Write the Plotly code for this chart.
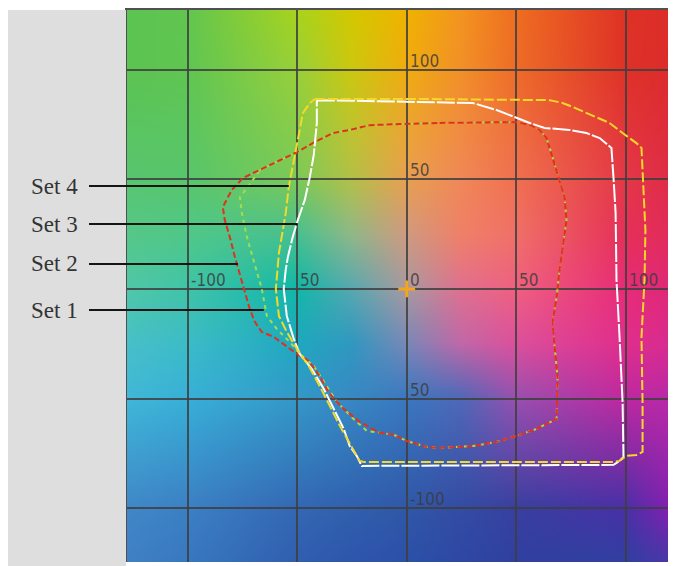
import base64
import struct
import zlib

import numpy as np
import plotly.graph_objects as go

# ---------------- data (a*, b*) ----------------
set1_a = [-67.0, -57.9, -50.1, -42.8, -33.7, -26.0, -16.9, -3.2, 15.0, 50.1, 56.1, 60.6, 63.8, 66.5,
          69.7, 72.0, 72.9, 71.1, 69.7, 68.4, 66.5, 67.5, 68.8, 68.4, 59.3, 50.1, 41.0, 30.5, 15.0,
          9.1, 0.0, -5.9, -9.1, -18.2, -24.2, -31.9, -36.5, -42.4, -48.8, -53.3, -59.3, -63.8, -66.1,
          -70.2, -72.9, -75.2, -76.1, -72.5]
set1_b = [54.2, 58.8, 62.4, 66.5, 71.1, 72.5, 74.7, 75.2, 75.7, 76.1, 74.8, 72.5, 68.8, 60.2,
          49.7, 41.9, 31.4, 19.1, 8.7, -3.6, -15.5, -26.4, -40.1, -59.2, -63.8, -67.0, -69.7, -71.6, -72.5,
          -72.0, -69.3, -66.5, -66.1, -64.7, -59.3, -51.5, -44.2, -35.1, -29.6, -24.2, -18.2, -12.3, 0.0,
          14.6, 23.7, 34.6, 41.9, 46.5]

set2_a = [15.0, 50.1, 56.1, 60.6, 63.8, 66.5, 69.7, 72.0, 72.9, 71.1, 69.7, 68.4, 66.5, 67.5, 68.8,
          68.4, 59.3, 50.1, 41.0, 30.5, 15.0, 9.1, 0.0, -5.9, -12.3, -21.4, -28.7, -33.3, -36.5, -39.7,
          -44.7, -50.1, -56.1, -60.6, -66.1, -69.3, -71.6, -74.3, -78.4, -80.7, -83.0, -83.9, -79.8,
          -74.7, -67.0, -57.9, -50.1, -42.8, -33.7, -26.0, -16.9, -3.2]
set2_b = [75.7, 76.1, 74.8, 72.5, 68.8, 60.2, 49.7, 41.9, 31.4, 19.1, 8.7, -3.6, -15.5, -26.4, -40.1,
          -59.2, -63.8, -67.0, -69.7, -71.6, -72.5, -72.0, -69.3, -66.5, -65.6, -60.6, -54.7, -50.1, -45.6,
          -39.7, -32.8, -29.6, -25.1, -21.9, -19.6, -15.0, -9.1, 0.0, 14.6, 23.7, 31.4, 37.4, 45.1,
          50.6, 54.2, 58.8, 62.4, 66.5, 71.1, 72.5, 74.7, 75.2]

set3_a = [-41.0, 21.0, 30.1, 41.0, 50.1, 56.1, 62.9, 74.3, 82.0, 88.0, 93.4, 93.9, 94.4, 95.3, 95.7,
          97.1, 98.5, 98.9, 97.1, 94.4, -20.5, -22.8, -26.0, -28.7, -33.3, -37.8, -43.3, -48.8, -51.5,
          -54.7, -56.1, -55.2, -54.2, -52.0, -49.7, -46.5, -44.2, -42.4, -41.0]
set3_b = [86.1, 85.2, 84.8, 81.6, 77.9, 75.7, 73.4, 72.5, 71.1, 68.8, 64.3, 58.8, 49.7, 34.6, 4.1,
          -21.9, -52.0, -76.6, -78.4, -80.2, -80.7, -76.1, -71.6, -63.8, -54.7, -45.6, -36.5, -29.6, -22.8,
          -12.3, 0.0, 8.7, 14.6, 23.7, 31.4, 40.6, 51.0, 61.1, 75.7]

set4_a = [-41.9, 10.5, 65.2, 71.1, 75.7, 82.0, 86.6, 92.5, 98.5, 104.8, 107.1, 107.6, 107.6, 108.5,
          108.9, 108.5, 107.1, 107.6, 107.6, 104.8, 100.3, 97.1, 94.4, -19.6, -21.4, -22.8, -26.4, -30.5,
          -35.1, -39.7, -44.7, -50.1, -54.7, -58.3, -59.7, -58.3, -56.5, -55.2, -53.8, -52.0, -50.1,
          -48.8, -47.4, -44.2]
set4_b = [86.6, 86.6, 86.1, 84.8, 83.0, 80.2, 78.4, 75.7, 71.1, 66.5, 64.3, 55.6, 49.7, 34.6,
          26.9, 4.1, -21.9, -52.0, -74.3, -75.7, -76.1, -78.4, -78.9, -78.9, -78.4, -76.1, -69.7, -62.4,
          -53.3, -44.2, -35.1, -27.3, -19.6, -12.3, 0.0, 16.4, 26.9, 34.6, 46.5, 55.6, 64.7,
          72.5, 80.2, 84.8]

set_names = ["Set 1", "Set 2", "Set 3", "Set 4"]
leader_end_a = [-65.2, -77.0, -49.7, -53.8]
leader_b = [-9.6, 11.4, 29.6, 46.9]

x_tick_vals = [-100, -50, 0, 50, 100]
x_tick_text = ["-100", "50", "0", "50", "100"]
y_tick_vals = [100, 50, -50, -100]
y_tick_text = ["100", "50", "50", "-100"]

# ---------------- layout constants ----------------
XMIN, XMAX = -127.6, 119.2
YMIN, YMAX = -124.5, 127.2
W, H = 669, 558          # page body adds an 8px offset
ML, MR, MT, MB = 119, 9, 2, 4

# ---------------- background colour field ----------------
grid_a = [-128, -100, -50, -25, 0, 25, 50, 100, 120]
grid_b = [128, 100, 50, 25, 0, -25, -50, -100, -125]
grid_hex = [
    ["#5cc452", "#62c650", "#a8d41c", "#d4c800", "#f0b300", "#f39420", "#ef6e20", "#df3226", "#dc2e28"],
    ["#5cc452", "#60c652", "#98d03a", "#ccc810", "#f0ac10", "#f29028", "#ee6c28", "#df3228", "#dc2c2c"],
    ["#58c670", "#58c66c", "#7cca58", "#b4c048", "#e8a050", "#f08858", "#f07050", "#e43848", "#e02c48"],
    ["#56c888", "#50c888", "#48c090", "#90b888", "#d09a80", "#f08068", "#f07068", "#e63058", "#e22c5c"],
    ["#50c8a8", "#40c4a8", "#10b8a8", "#58a8b0", "#a89aa0", "#e07090", "#f06080", "#e82c78", "#e02878"],
    ["#48c0c8", "#3cbcc8", "#20a8c0", "#3098c0", "#7888b8", "#c068a8", "#dc509c", "#e02e8c", "#d82c90"],
    ["#40b8d8", "#38b0d8", "#3498c8", "#3888c4", "#3a78c0", "#5068b8", "#9850b0", "#c028a0", "#b82aa8"],
    ["#4088c8", "#3c80c4", "#3468b4", "#3060ae", "#3058a8", "#344ca4", "#3840a0", "#4a30a8", "#8420b0"],
    ["#4080c4", "#3878c0", "#305eb0", "#2e56ac", "#2c50a8", "#2e48a4", "#3040a0", "#3040a0", "#4838a8"],
]
grid_rgb = np.array([[[int(h[i:i + 2], 16) for i in (1, 3, 5)] for h in row] for row in grid_hex], dtype=float)

pw = int(round((XMAX - XMIN) * 2.194))
ph = int(round((YMAX - YMIN) * 2.194))
aa = np.linspace(XMIN, XMAX, pw)
bb = np.linspace(YMAX, YMIN, ph)
ia = np.interp(aa, grid_a, np.arange(len(grid_a)))
ib = np.interp(-bb, [-v for v in grid_b], np.arange(len(grid_b)))
ia0 = np.clip(np.floor(ia).astype(int), 0, len(grid_a) - 2)
ib0 = np.clip(np.floor(ib).astype(int), 0, len(grid_b) - 2)
fa = (ia - ia0)[None, :, None]
fb = (ib - ib0)[:, None, None]
I0, J0 = np.meshgrid(ib0, ia0, indexing="ij")
c00 = grid_rgb[I0, J0]
c01 = grid_rgb[I0, J0 + 1]
c10 = grid_rgb[I0 + 1, J0]
c11 = grid_rgb[I0 + 1, J0 + 1]
img = (c00 * (1 - fa) * (1 - fb) + c01 * fa * (1 - fb) + c10 * (1 - fa) * fb + c11 * fa * fb)
img = np.clip(img, 0, 255).astype(np.uint8)


def png_uri(arr):
    h, w, _ = arr.shape
    raw = b"".join(b"\x00" + arr[i].tobytes() for i in range(h))

    def chunk(t, d):
        c = struct.pack(">I", len(d)) + t + d
        return c + struct.pack(">I", zlib.crc32(t + d) & 0xFFFFFFFF)

    data = (b"\x89PNG\r\n\x1a\n"
            + chunk(b"IHDR", struct.pack(">IIBBBBB", w, h, 8, 2, 0, 0, 0))
            + chunk(b"IDAT", zlib.compress(raw, 9))
            + chunk(b"IEND", b""))
    return "data:image/png;base64," + base64.b64encode(data).decode()


# ---------------- figure ----------------
fig = go.Figure()


def closed(xs, ys):
    return list(xs) + [xs[0]], list(ys) + [ys[0]]


x1, y1 = closed(set1_a, set1_b)
x2, y2 = closed(set2_a, set2_b)
x3, y3 = closed(set3_a, set3_b)
x4, y4 = closed(set4_a, set4_b)

fig.add_trace(go.Scatter(x=x1, y=y1, mode="lines", name="Set 1",
                         line=dict(color="#a6dc4a", width=2, dash="4px,4px")))
fig.add_trace(go.Scatter(x=x2, y=y2, mode="lines", name="Set 2",
                         line=dict(color="#e0301e", width=2, dash="6px,3px")))
fig.add_trace(go.Scatter(x=x3, y=y3, mode="lines", name="Set 3",
                         line=dict(color="#ffffff", width=2, dash="18px,2px")))
fig.add_trace(go.Scatter(x=x4, y=y4, mode="lines", name="Set 4",
                         line=dict(color="#f4d82a", width=2, dash="10px,3px")))
fig.add_trace(go.Scatter(x=[0], y=[0], mode="markers",
                         marker=dict(symbol="cross-thin", size=12,
                                     line=dict(color="#f5a41e", width=3))))

tick_font = dict(family="Liberation Sans Narrow, DejaVu Sans Condensed, Arial", size=17,
                 color="rgba(60,60,60,0.85)")
annotations = []
for v, t in zip(x_tick_vals, x_tick_text):
    annotations.append(dict(x=v, y=0, xref="x", yref="y", text=t, showarrow=False,
                            xanchor="left", yanchor="bottom", xshift=1, yshift=-3, font=tick_font))
for v, t in zip(y_tick_vals, y_tick_text):
    annotations.append(dict(x=0, y=v, xref="x", yref="y", text=t, showarrow=False,
                            xanchor="left", yanchor="bottom", xshift=1, yshift=-3, font=tick_font))

span = XMAX - XMIN
pwidth = W - ML - MR
label_x = (80 - 8 - ML) / pwidth
line_x0 = (89 - 8 - ML) / pwidth
shapes = [
    dict(type="rect", xref="paper", yref="paper",
         x0=(0 - ML) / pwidth, x1=(126 - 8 - ML) / pwidth, y0=-0.01, y1=1.0,
         fillcolor="#dedede", line=dict(width=0), layer="above"),
]
for name, ea, lb in zip(set_names, leader_end_a, leader_b):
    shapes.append(dict(type="line", xref="paper", yref="y", x0=line_x0, x1=(ea - XMIN) / span,
                       y0=lb, y1=lb, line=dict(color="#151515", width=2), layer="above"))
    annotations.append(dict(x=label_x, y=lb, xref="paper", yref="y", text=name, showarrow=False,
                            xanchor="right", yanchor="middle",
                            font=dict(family="Liberation Serif, Times New Roman, serif", size=23,
                                      color="#333333")))

grid_col = "rgba(62,62,62,0.85)"
fig.update_layout(
    width=W, height=H,
    margin=dict(l=ML, r=MR, t=MT, b=MB),
    paper_bgcolor="white", plot_bgcolor="white",
    showlegend=False,
    xaxis=dict(range=[XMIN, XMAX], tick0=0, dtick=50, showgrid=True, gridcolor=grid_col, gridwidth=1.6,
               zeroline=True, zerolinecolor=grid_col, zerolinewidth=1.6, showticklabels=False,
               ticks="", side="top", showline=True, linecolor="#505050", linewidth=2, fixedrange=True),
    yaxis=dict(range=[YMIN, YMAX], tick0=0, dtick=50, showgrid=True, gridcolor=grid_col, gridwidth=1.6,
               zeroline=True, zerolinecolor=grid_col, zerolinewidth=1.6, showticklabels=False,
               ticks="", showline=True, linecolor="#505050", linewidth=2, fixedrange=True),
    images=[dict(source=png_uri(img), xref="x", yref="y", x=XMIN, y=YMAX, sizex=XMAX - XMIN,
                 sizey=YMAX - YMIN, xanchor="left", yanchor="top", sizing="stretch", layer="below")],
    shapes=shapes,
    annotations=annotations,
)

fig.write_html("out.html")
